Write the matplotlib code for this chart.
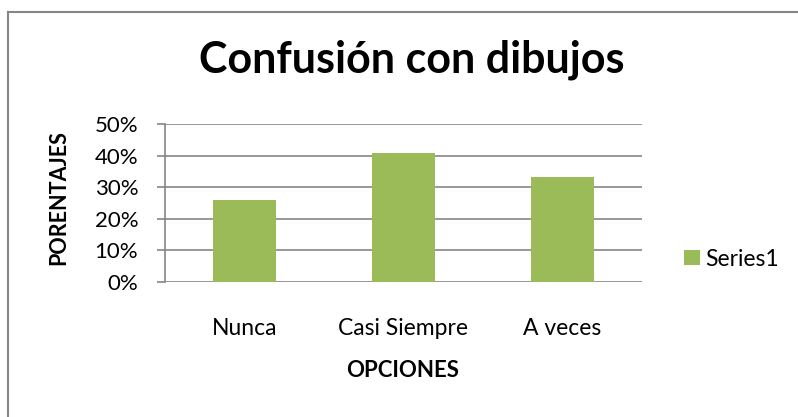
import matplotlib
matplotlib.use("Agg")
import matplotlib.pyplot as plt
from matplotlib.lines import Line2D
from matplotlib.ticker import PercentFormatter

categories = ["Nunca", "Casi Siempre", "A veces"]
values = [0.259, 0.407, 0.333]
series_name = "Series1"
title = "Confusión con dibujos"
xlabel = "OPCIONES"
ylabel = "PORENTAJES"
yticks = [0, 0.1, 0.2, 0.3, 0.4, 0.5]

plt.rcParams['font.family'] = ['Lato', 'DejaVu Sans']

W, H = 798, 417
fig = plt.figure(figsize=(W/100, H/100), dpi=100)
fig.patch.set_facecolor('white')
border_c = '#868686'
# chart-area border (only top and left visible in the crop)
fig.add_artist(Line2D([8/W, 1.0], [1-12/H, 1-12/H], transform=fig.transFigure,
                      color=border_c, linewidth=1.5))
fig.add_artist(Line2D([8/W, 8/W], [0.0, 1-12/H], transform=fig.transFigure,
                      color=border_c, linewidth=1.5))

ax = fig.add_axes([165/W, 1-282/H, (642-165)/W, (282-124)/H])
x = list(range(len(categories)))
ax.bar(x, values, width=0.4, color='#9BBB59', label=series_name, zorder=3)
ax.set_xlim(-0.5, 2.5)
ax.set_ylim(0, 0.5)
ax.set_yticks(yticks)
ax.yaxis.set_major_formatter(PercentFormatter(1.0, decimals=0))
ax.set_xticks(x)
ax.set_xticklabels(categories, va='baseline')
ax.grid(axis='y', color=border_c, linewidth=1.2, zorder=0)
for s in ['top', 'right', 'bottom']:
    ax.spines[s].set_visible(False)
ax.spines['left'].set_color(border_c)
ax.spines['left'].set_linewidth(1.2)
ax.tick_params(axis='y', length=5.8, color=border_c, width=1.2, labelsize=16, pad=13.5)
ax.tick_params(axis='x', length=0, labelsize=16.5, pad=38)

fig.text(412/W, 1-73/H, title, ha='center', va='baseline', fontsize=31, fontweight='bold')
fig.text(403/W, 1-377/H, xlabel, ha='center', va='baseline', fontsize=16, fontweight='bold')
fig.text(59/W, 1-198/H, ylabel, ha='center', va='center', fontsize=15.5, fontweight='bold', rotation=90)

leg = ax.legend(loc='center left', bbox_to_anchor=(684/W, 1-259/H), bbox_transform=fig.transFigure,
                frameon=False, fontsize=16.5, handlelength=0.68, handleheight=0.68,
                handletextpad=0.25, borderaxespad=0, borderpad=0)

fig.savefig("out.png", dpi=100, facecolor='white')
